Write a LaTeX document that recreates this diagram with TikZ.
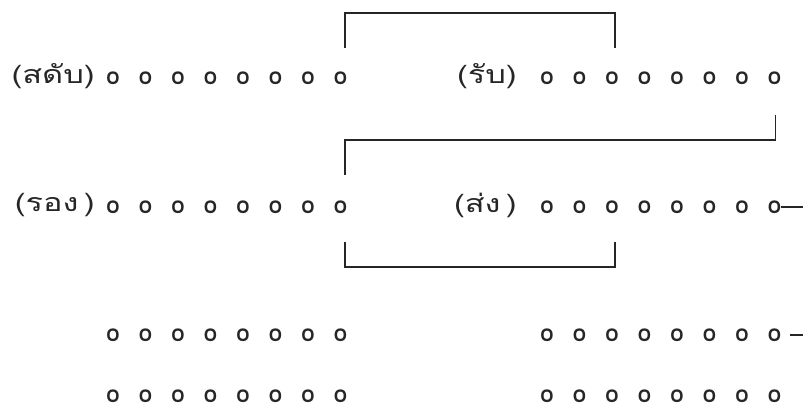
\documentclass[tikz,border=0pt]{standalone}
\usepackage{fontspec}
\newfontfamily\thaifont[Script=Thai]{Loma}
\begin{document}
\begin{tikzpicture}[x=1pt,y=-1pt,
  syl/.style={font=\thaifont\bfseries\fontsize{24}{24}\selectfont, inner sep=0pt, text=black!85},
  lbl/.style={font=\thaifont\fontsize{25}{27}\selectfont, inner sep=0pt, anchor=east, text=black!85},
  conn/.style={line width=1.8pt, black!85}]
\useasboundingbox (0,0) rectangle (803,412);
% syllable rows
\foreach \i in {1,...,8}{
  \node[syl] (La\i) at ({113+32.5*(\i-1)},78) {o};
  \node[syl] (Ra\i) at ({547+32.5*(\i-1)},78) {o};
  \node[syl] (Lb\i) at ({113+32.5*(\i-1)},207) {o};
  \node[syl] (Rb\i) at ({547+32.5*(\i-1)},207) {o};
  \node[syl] (Lc\i) at ({113+32.5*(\i-1)},335) {o};
  \node[syl] (Rc\i) at ({547+32.5*(\i-1)},335) {o};
  \node[syl] (Ld\i) at ({113+32.5*(\i-1)},396) {o};
  \node[syl] (Rd\i) at ({547+32.5*(\i-1)},396) {o};
}
% labels
\node[lbl] (sadap) at (95,76) {\scalebox{1.3}[1]{(สดับ)}};
\node[lbl] (rap) at (517,76) {\scalebox{1.3}[1]{(รับ)}};
\node[lbl] (rong) at (95,205) {\scalebox{1.3}[1]{(รอง\,)}};
\node[lbl] (song) at (517,205) {\scalebox{1.3}[1]{(ส่ง\,)}};
% connectors
\coordinate (e2) at (803,207);
\coordinate (e3) at (803,335);
\draw[conn] ([shift={(4.5,-30)}]La8.center) -- ++(0,-35) -| ([shift={(3,-30)}]Ra3.center);
\draw[conn] ([shift={(1,37)}]Ra8.center) -- ++(0,25) -| ([shift={(4.5,-32)}]Lb8.center);
\draw[conn] ([shift={(4.5,35)}]Lb8.center) -- ++(0,25) -| ([shift={(3,35)}]Rb3.center);
\draw[conn] (Rb8.east) -- (e2);
\draw[conn] ([xshift=9pt]Rc8.east) -- (e3);
\end{tikzpicture}
\end{document}
